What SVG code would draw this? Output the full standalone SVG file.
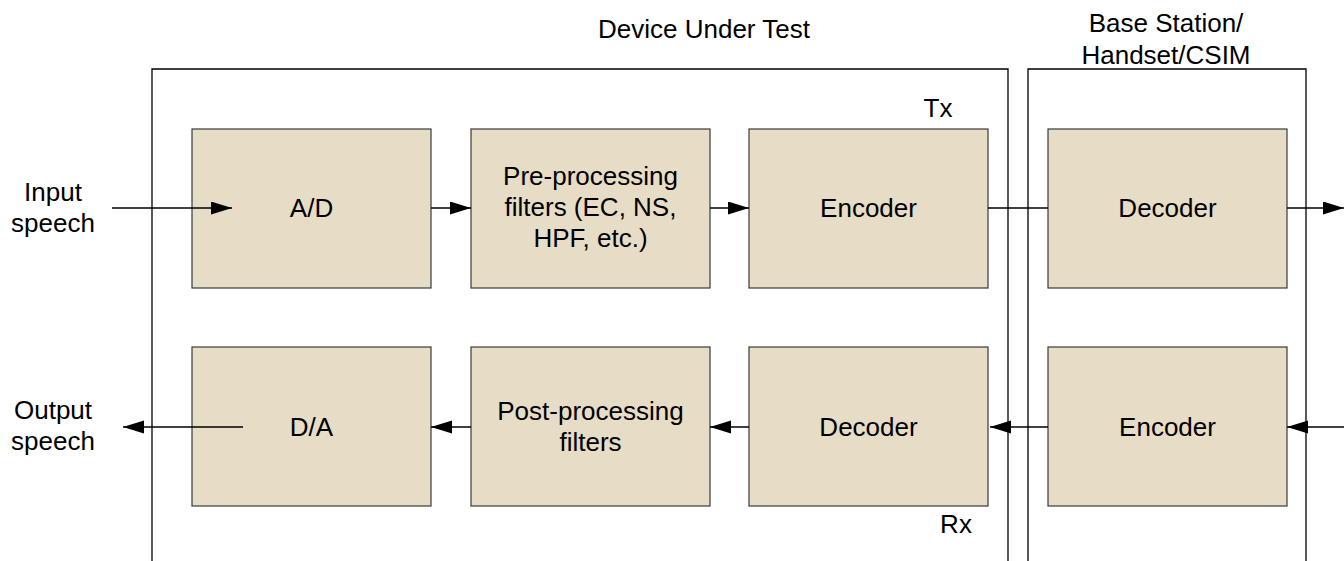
<svg xmlns="http://www.w3.org/2000/svg" width="1344" height="561" viewBox="0 0 1344 561">
  <style>
    .frame { fill: none; stroke: #000; stroke-width: 1.3; }
    .block { fill: #E7DCC5; stroke: #3a3a3a; stroke-width: 1.2; }
    .wire { fill: none; stroke: #000; stroke-width: 1.3; }
    .arrow { marker-end: url(#head); }
    text { font-family: "Liberation Sans", Arial, sans-serif; font-size: 26px; fill: #000; text-anchor: middle; }
  </style>
  <defs>
    <marker id="head" markerUnits="userSpaceOnUse" markerWidth="22" markerHeight="14" refX="21" refY="6.5" orient="auto">
      <path d="M0,0 L21,6.5 L0,13 Z" fill="#000"/>
    </marker>
  </defs>

  <!-- enclosures -->
  <g id="dut">
    <path class="frame" d="M152,561 V69 H1008 V561"/>
    <text x="704" y="38">Device Under Test</text>
    <text x="938" y="117">Tx</text>
    <text x="956" y="533">Rx</text>
  </g>
  <g id="base-station">
    <path class="frame" d="M1028,561 V69 H1306 V561"/>
    <text x="1166" y="32">Base Station/</text>
    <text x="1166" y="64">Handset/CSIM</text>
  </g>

  <!-- transmit path -->
  <g id="ad">
    <rect class="block" x="192" y="129" width="239" height="159"/>
    <text x="311.5" y="217">A/D</text>
  </g>
  <g id="preproc">
    <rect class="block" x="471" y="129" width="239" height="159"/>
    <text x="590.5" y="185">Pre-processing</text>
    <text x="590.5" y="216">filters (EC, NS,</text>
    <text x="590.5" y="247">HPF, etc.)</text>
  </g>
  <g id="encoder-tx">
    <rect class="block" x="749" y="129" width="239" height="159"/>
    <text x="868.5" y="217">Encoder</text>
  </g>
  <g id="decoder-bs">
    <rect class="block" x="1048" y="129" width="239" height="159"/>
    <text x="1167.5" y="217">Decoder</text>
  </g>

  <!-- receive path -->
  <g id="da">
    <rect class="block" x="192" y="347" width="239" height="159"/>
    <text x="311.5" y="436">D/A</text>
  </g>
  <g id="postproc">
    <rect class="block" x="471" y="347" width="239" height="159"/>
    <text x="590.5" y="420">Post-processing</text>
    <text x="590.5" y="451">filters</text>
  </g>
  <g id="decoder-rx">
    <rect class="block" x="749" y="347" width="239" height="159"/>
    <text x="868.5" y="436">Decoder</text>
  </g>
  <g id="encoder-bs">
    <rect class="block" x="1048" y="347" width="239" height="159"/>
    <text x="1167.5" y="436">Encoder</text>
  </g>

  <!-- speech labels -->
  <g id="input-label">
    <text x="53" y="201">Input</text>
    <text x="53" y="232">speech</text>
  </g>
  <g id="output-label">
    <text x="53" y="419">Output</text>
    <text x="53" y="450">speech</text>
  </g>

  <!-- signal flow -->
  <g id="connectors">
    <line class="wire arrow" x1="112" y1="208" x2="232" y2="208"/>
    <line class="wire arrow" x1="431" y1="208" x2="471" y2="208"/>
    <line class="wire arrow" x1="710" y1="208" x2="749" y2="208"/>
    <line class="wire" x1="988" y1="208" x2="1048" y2="208"/>
    <line class="wire arrow" x1="1287" y1="208" x2="1344" y2="208"/>

    <line class="wire arrow" x1="1344" y1="427" x2="1287" y2="427"/>
    <line class="wire arrow" x1="1048" y1="427" x2="990" y2="427"/>
    <line class="wire arrow" x1="749" y1="427" x2="710" y2="427"/>
    <line class="wire arrow" x1="471" y1="427" x2="431" y2="427"/>
    <line class="wire arrow" x1="243" y1="427" x2="123" y2="427"/>
  </g>
</svg>
